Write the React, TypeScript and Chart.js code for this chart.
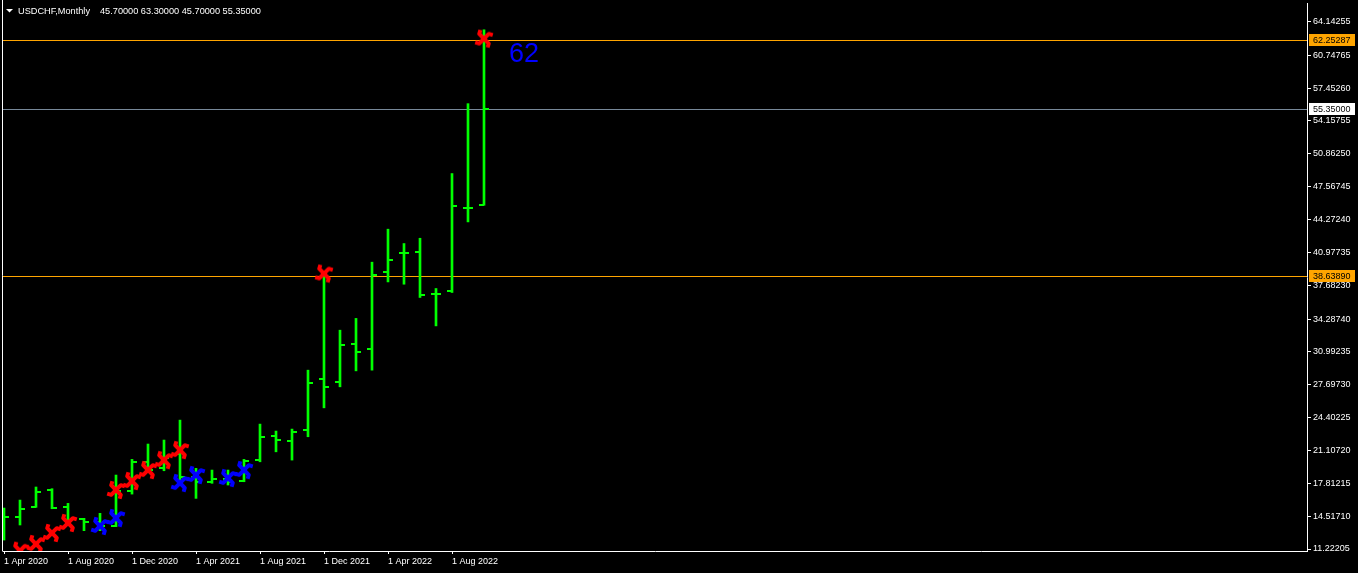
import React, { useEffect, useRef } from "react";
import { Chart, registerables } from "chart.js";

Chart.register(...registerables);

// ---- data -------------------------------------------------------------
const symbolTitle = "USDCHF,Monthly";
const headerValues = "45.70000 63.30000 45.70000 55.35000";

// monthly bars: Apr 2020 .. Oct 2022 (index 0..30)
const opens = [14.45, 14.46, 15.46, 17.17, 15.46, 14.2, 13.93, 13.53, 17.07, 19.97, 19.37, 20.71, 18.47, 17.97, 18.21, 18.07, 20.14, 22.58, 22.05, 23.15, 28.29, 27.96, 31.77, 31.27, 38.99, 40.92, 40.99, 36.75, 37.11, 45.43, 45.7];
const highs = [15.33, 16.13, 17.44, 17.27, 15.8, 14.3, 14.8, 18.64, 20.21, 21.75, 22.15, 24.15, 19.31, 19.14, 19.14, 20.21, 23.75, 23.05, 23.25, 29.16, 38.8, 33.17, 34.35, 39.99, 43.3, 41.86, 42.39, 37.35, 48.88, 55.89, 63.3];
const lows = [12.12, 13.63, 15.4, 15.26, 13.63, 13.06, 13.06, 13.46, 16.73, 18.97, 19.07, 17.64, 16.3, 17.81, 17.64, 17.97, 19.97, 20.97, 20.14, 22.48, 25.38, 27.49, 29.09, 29.16, 38.01, 37.78, 36.45, 33.6, 36.95, 44.03, 45.7];
const closes = [14.45, 15.26, 16.96, 15.33, 14.13, 13.93, 13.53, 17.04, 19.97, 19.14, 20.37, 18.47, 17.97, 18.21, 17.97, 20.07, 22.48, 22.15, 22.95, 27.86, 27.46, 31.67, 30.97, 38.72, 40.22, 40.92, 36.68, 36.75, 45.63, 45.43, 55.35];

const xTickIndex = [0, 4, 8, 12, 16, 20, 24, 28];
const xTickLabels = ["1 Apr 2020", "1 Aug 2020", "1 Dec 2020", "1 Apr 2021", "1 Aug 2021", "1 Dec 2021", "1 Apr 2022", "1 Aug 2022"];

const yTickValues = [64.14255, 60.74765, 57.4526, 54.15755, 50.8625, 47.56745, 44.2724, 40.97735, 37.6823, 34.2874, 30.99235, 27.6973, 24.40225, 21.1072, 17.81215, 14.5171, 11.22205];
const yTickLabels = yTickValues.map((v) => v.toFixed(5));

const redIdx = [1, 2, 3, 4, 7, 8, 9, 10, 11, 20, 30];
const redVals = [11.05, 11.72, 12.83, 13.83, 17.14, 18.04, 19.14, 20.14, 21.14, 38.85, 62.41];
const blueIdx = [6, 7, 11, 12, 14, 15];
const blueVals = [13.53, 14.33, 17.84, 18.64, 18.34, 19.14];

const levelValues = [62.25287, 55.35, 38.6389];
const levelLabels = ["62.25287", "55.35000", "38.63890"];
const levelLineColors = ["#ffa500", "#778899", "#ffa500"];
const levelTagColors = ["#ffa500", "#ffffff", "#ffa500"];

const noteText = "62";
const noteIndex = 31.56;
const noteValue = 60.07;

// ---- style ------------------------------------------------------------
const GREEN = "#00ff00";
const FONT = "Liberation Sans";
const Y_MIN = 11.0215;
const Y_MAX = 65.986;
const X_MIN = -0.0625;
const X_MAX = 81.4375;

function makeTick(side: "left" | "right") {
  const c = document.createElement("canvas");
  c.width = 10;
  c.height = 2;
  const g = c.getContext("2d")!;
  g.fillStyle = GREEN;
  if (side === "left") g.fillRect(0, 0, 5, 2);
  else g.fillRect(5, 0, 5, 2);
  return c;
}

function makePinwheel(color: string) {
  const c = document.createElement("canvas");
  c.width = 20;
  c.height = 20;
  const g = c.getContext("2d")!;
  g.strokeStyle = color;
  g.lineWidth = 4;
  g.lineJoin = "round";
  g.lineCap = "butt";
  const arms = [
    [5.2, 5.2, 6.4, 1.2],
    [14.8, 5.2, 18.8, 6.4],
    [14.8, 14.8, 13.6, 18.8],
    [5.2, 14.8, 1.2, 13.6],
  ];
  for (const [ax, ay, hx, hy] of arms) {
    g.beginPath();
    g.moveTo(10, 10);
    g.lineTo(ax, ay);
    g.lineTo(hx, hy);
    g.stroke();
  }
  return c;
}

const overlayPlugin = {
  id: "mt4Overlay",
  beforeDatasetsDraw(chart: any) {
    const { ctx, chartArea } = chart;
    const y = chart.scales.y;
    ctx.save();
    ctx.lineWidth = 1;
    levelValues.forEach((v, i) => {
      const py = Math.round(y.getPixelForValue(v)) + 0.5;
      ctx.strokeStyle = levelLineColors[i];
      ctx.beginPath();
      ctx.moveTo(chartArea.left, py);
      ctx.lineTo(chartArea.right, py);
      ctx.stroke();
    });
    ctx.restore();
  },
  afterDraw(chart: any) {
    const { ctx, chartArea } = chart;
    const xs = chart.scales.x;
    const ys = chart.scales.y;
    ctx.save();
    // left frame line
    ctx.strokeStyle = "#ffffff";
    ctx.lineWidth = 1;
    ctx.beginPath();
    ctx.moveTo(chartArea.left - 0.5, 0);
    ctx.lineTo(chartArea.left - 0.5, chartArea.bottom + 0.5);
    ctx.stroke();

    // header
    ctx.fillStyle = "#ffffff";
    ctx.beginPath();
    ctx.moveTo(6, 9);
    ctx.lineTo(13, 9);
    ctx.lineTo(9.5, 12.5);
    ctx.closePath();
    ctx.fill();
    ctx.font = `9.2px "${FONT}"`;
    ctx.textBaseline = "middle";
    ctx.textAlign = "left";
    ctx.fillText(symbolTitle, 18, 11);
    ctx.fillText(headerValues, 100, 11);

    // text note
    ctx.fillStyle = "#0000ff";
    ctx.font = `27px "${FONT}"`;
    ctx.textBaseline = "alphabetic";
    ctx.fillText(noteText, xs.getPixelForValue(noteIndex), ys.getPixelForValue(noteValue));

    // price tags
    ctx.font = `9px "${FONT}"`;
    ctx.textBaseline = "middle";
    levelValues.forEach((v, i) => {
      const py = Math.round(ys.getPixelForValue(v));
      ctx.fillStyle = levelTagColors[i];
      ctx.fillRect(chartArea.right + 2, py - 6, 46, 12);
      ctx.fillStyle = "#000000";
      ctx.fillText(levelLabels[i], chartArea.right + 6, py + 0.5);
    });
    ctx.restore();
  },
};

export default function App() {
  const ref = useRef<HTMLCanvasElement | null>(null);

  useEffect(() => {
    const canvas = ref.current;
    if (!canvas) return;
    Chart.defaults.font.family = FONT;
    const openImg = makeTick("left");
    const closeImg = makeTick("right");
    const redImg = makePinwheel("#ff0000");
    const blueImg = makePinwheel("#0000ff");

    const chart = new Chart(canvas, {
      type: "bar",
      data: {
        datasets: [
          {
            type: "scatter",
            label: "Sell",
            data: redIdx.map((x, i) => ({ x, y: redVals[i] })),
            pointStyle: redImg as any,
            pointRadius: 10,
            order: 0,
          } as any,
          {
            type: "scatter",
            label: "Buy",
            data: blueIdx.map((x, i) => ({ x, y: blueVals[i] })),
            pointStyle: blueImg as any,
            pointRadius: 10,
            order: 0,
          } as any,
          {
            type: "scatter",
            label: "Open",
            data: opens.map((y, i) => ({ x: i, y })),
            pointStyle: openImg as any,
            pointRadius: 5,
            order: 1,
          } as any,
          {
            type: "scatter",
            label: "Close",
            data: closes.map((y, i) => ({ x: i, y })),
            pointStyle: closeImg as any,
            pointRadius: 5,
            order: 1,
          } as any,
          {
            type: "bar",
            label: "Range",
            data: highs.map((h, i) => ({ x: i, y: [lows[i], h] })),
            backgroundColor: GREEN,
            borderWidth: 0,
            barThickness: 2,
            grouped: false,
            order: 2,
          } as any,
        ],
      },
      options: {
        animation: false,
        responsive: false,
        devicePixelRatio: 1,
        events: [],
        layout: { autoPadding: false, padding: { left: 3, top: 3, right: 0, bottom: 0 } },
        plugins: {
          legend: { display: false },
          tooltip: { enabled: false },
          title: { display: false },
        },
        scales: {
          x: {
            type: "linear",
            min: X_MIN,
            max: X_MAX,
            offset: false,
            afterBuildTicks: (s: any) => {
              s.ticks = xTickIndex.map((v) => ({ value: v }));
            },
            afterFit: (s: any) => {
              s.height = 22;
              s.paddingLeft = 0;
              s.paddingRight = 0;
            },
            ticks: {
              color: "#ffffff",
              font: { family: FONT, size: 9 },
              padding: 2,
              align: "start",
              autoSkip: false,
              maxRotation: 0,
              minRotation: 0,
              callback: (_v: any, i: number) => xTickLabels[i],
            },
            grid: { drawOnChartArea: false, color: "#ffffff", tickLength: 3, offset: false },
            border: { color: "#ffffff", width: 1 },
          },
          y: {
            type: "linear",
            position: "right",
            min: Y_MIN,
            max: Y_MAX,
            afterBuildTicks: (s: any) => {
              s.ticks = yTickValues.map((v) => ({ value: v }));
            },
            afterFit: (s: any) => {
              s.width = 51;
              s.paddingTop = 0;
              s.paddingBottom = 0;
            },
            ticks: {
              color: "#ffffff",
              font: { family: FONT, size: 9 },
              padding: 2,
              autoSkip: false,
              callback: (_v: any, i: number) => yTickLabels[i],
            },
            grid: { drawOnChartArea: false, color: "#ffffff", tickLength: 4 },
            border: { color: "#ffffff", width: 1 },
          },
        },
      } as any,
      plugins: [overlayPlugin],
    });

    return () => chart.destroy();
  }, []);

  return (
    <div
      style={{
        position: "fixed",
        left: 0,
        top: 0,
        width: 1358,
        height: 573,
        background: "#000000",
        overflow: "hidden",
      }}
    >
      <canvas ref={ref} width={1358} height={573} style={{ display: "block", width: 1358, height: 573 }} />
    </div>
  );
}
